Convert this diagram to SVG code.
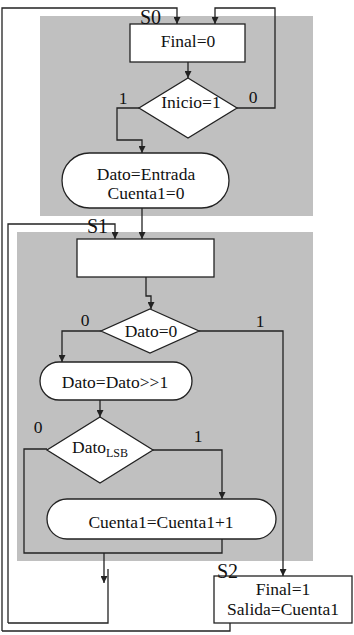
<svg xmlns="http://www.w3.org/2000/svg" width="354" height="635" viewBox="0 0 354 635">
<style>
.bg{fill:#c0c0c0;stroke:none}
.n{fill:#fff;stroke:#222;stroke-width:1.3}
.c{fill:none;stroke:#222;stroke-width:1.3}
text{font-family:"Liberation Serif","Times New Roman",serif;font-size:17.5px;fill:#111}
.m{text-anchor:middle}
.s{font-size:20px}
</style>
<defs>
<marker id="a" viewBox="0 0 10 10" refX="10" refY="5" markerWidth="7" markerHeight="7" markerUnits="userSpaceOnUse" orient="auto">
<path d="M0,0 L10,5 L0,10 z" fill="#222"/>
</marker>
</defs>
<rect id="state0" class="bg" x="40" y="16" width="273" height="200"/>
<rect id="state1" class="bg" x="17" y="232" width="296" height="329"/>
<g id="connectors">
<path class="c" d="M2,631 V8 H177 V24" marker-end="url(#a)"/>
<path class="c" d="M237,108 H275 V8 H215 V24" marker-end="url(#a)"/>
<path class="c" d="M188,62 V78" marker-end="url(#a)"/>
<path class="c" d="M139,108 H117 V140 H142 V153" marker-end="url(#a)"/>
<path class="c" d="M142,208 V239" marker-end="url(#a)"/>
<path class="c" d="M8,623 V224 H115 V239" marker-end="url(#a)"/>
<path class="c" d="M146,277 V296 H151 V309" marker-end="url(#a)"/>
<path class="c" d="M101,331 H62 V362" marker-end="url(#a)"/>
<path class="c" d="M199,331 H283 V576" marker-end="url(#a)"/>
<path class="c" d="M100,400 V417" marker-end="url(#a)"/>
<path class="c" d="M153,450 H222 V499" marker-end="url(#a)"/>
<path class="c" d="M47,449 H24 V553 H222 V539"/>
<path class="c" d="M104,553 V583" marker-end="url(#a)"/>
<path class="c" d="M8,623 H108 V569"/>
<path class="c" d="M2,631 H230 V618"/>
</g>
<g id="final0">
<rect class="n" x="130" y="24" width="115" height="38"/>
<text class="m" x="188" y="47">Final=0</text>
</g>
<g id="inicio">
<path class="n" d="M188,78 L237,108 L188,138 L139,108 z"/>
<text class="m" x="191" y="108">Inicio=1</text>
</g>
<g id="entrada">
<rect class="n" x="62" y="153" width="167" height="55" rx="27.5"/>
<text class="m" x="146" y="180">Dato=Entrada</text>
<text class="m" x="146" y="199">Cuenta1=0</text>
</g>
<g id="s1box">
<rect class="n" x="77" y="239" width="137" height="38"/>
</g>
<g id="dato0">
<path class="n" d="M150,309 L199,331 L150,353 L101,331 z"/>
<text class="m" x="151" y="337">Dato=0</text>
</g>
<g id="shift">
<rect class="n" x="40" y="362" width="152" height="38" rx="19"/>
<text class="m" x="115" y="388">Dato=Dato&gt;&gt;1</text>
</g>
<g id="datolsb">
<path class="n" d="M100,417 L153,450 L100,483 L47,450 z"/>
<text x="72" y="453">Dato<tspan font-size="12" dy="4">LSB</tspan></text>
</g>
<g id="cuenta">
<rect class="n" x="47" y="499" width="229" height="40" rx="20"/>
<text class="m" x="161" y="528">Cuenta1=Cuenta1+1</text>
</g>
<g id="s2box">
<rect class="n" x="214" y="576" width="138" height="47"/>
<text class="m" x="283" y="595">Final=1</text>
<text class="m" x="283" y="615">Salida=Cuenta1</text>
</g>
<g id="labels">
<text class="s" x="140" y="24">S0</text>
<text class="s" x="87" y="233">S1</text>
<text class="s" x="217" y="578">S2</text>
<text class="m" x="123" y="104">1</text>
<text class="m" x="253" y="103">0</text>
<text class="m" x="85" y="326">0</text>
<text class="m" x="260" y="327">1</text>
<text class="m" x="38" y="433">0</text>
<text class="m" x="198" y="442">1</text>
</g>
</svg>
